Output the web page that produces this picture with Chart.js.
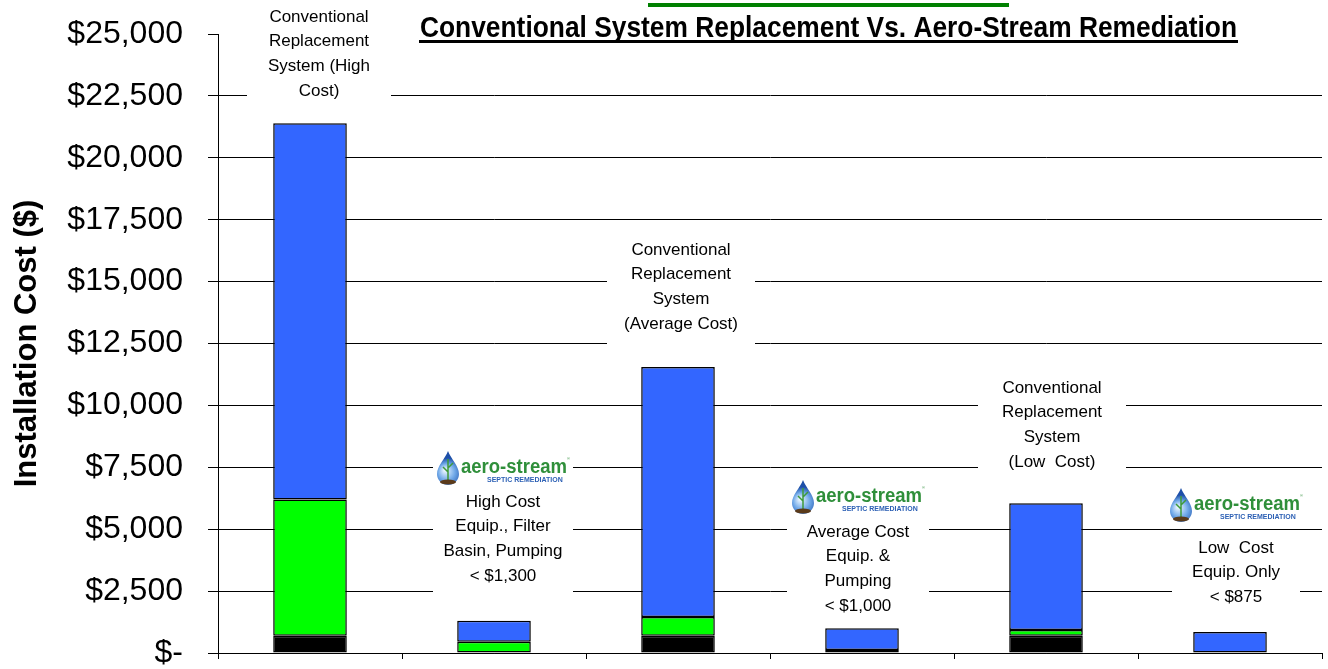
<!DOCTYPE html>
<html>
<head>
<meta charset="utf-8">
<title>Conventional System Replacement Vs. Aero-Stream Remediation</title>
<script src="https://cdn.jsdelivr.net/npm/chart.js@4.4.1/dist/chart.umd.min.js"></script>
<style>
  html, body { margin: 0; padding: 0; background: #fff; }
  #wrap { width: 1328px; height: 669px; position: relative; }
</style>
</head>
<body>
<div id="wrap"><canvas id="chart" width="1328" height="669"></canvas></div>
<script>
// categories (x axis, labels hidden in the original)
const categories = [
    'Conventional (High Cost)',
    'Aero-Stream (High Cost)',
    'Conventional (Average Cost)',
    'Aero-Stream (Average Cost)',
    'Conventional (Low Cost)',
    'Aero-Stream (Low Cost)'
];

// stacked segments, bottom to top
const blackCost = [700, 0, 700, 0, 700, 0];
const greenCost = [5500, 450, 750, 120, 230, 0];
const blueCost = [15200, 850, 10100, 880, 5120, 850];

// value axis
const yMin = 0;
const yMax = 25000;
const yStep = 2500;

// text boxes over each bar
const noteLines = [
    ['Conventional', 'Replacement', 'System (High', 'Cost)'],
    ['High Cost', 'Equip., Filter', 'Basin, Pumping', '< $1,300'],
    ['Conventional', 'Replacement', 'System', '(Average Cost)'],
    ['Average Cost', 'Equip. &', 'Pumping', '< $1,000'],
    ['Conventional', 'Replacement', 'System', '(Low  Cost)'],
    ['Low  Cost', 'Equip. Only', '< $875']
];
const noteHasLogo = [false, true, false, true, false, true];

const TITLE = 'Conventional System Replacement Vs. Aero-Stream Remediation';
const FONT = '"Liberation Sans", Arial, sans-serif';

// where the boxes sit (value of first text line, x shift, box half width, logo value)
const noteLayout = [
    { dx: 9, first: 25690, half: 72, logo: null },
    { dx: 9, first: 6100, half: 70, logo: 7430 },
    { dx: 3, first: 16280, half: 74, logo: null },
    { dx: -4, first: 4890, half: 71, logo: 6260 },
    { dx: 6, first: 10700, half: 74, logo: null },
    { dx: 6, first: 4240, half: 64, logo: 5940 }
];

function drawLogo(c, cx, cy) {
    const x = cx - 66;
    // drop
    const dx = x + 11, top = cy - 18, r = 11, by = cy + 5;
    const g = c.createRadialGradient(dx - 3, by - 4, 1, dx, by, 16);
    g.addColorStop(0, '#e8f4ff');
    g.addColorStop(0.5, '#6fa8e8');
    g.addColorStop(1, '#1d4fa8');
    c.save();
    c.beginPath();
    c.moveTo(dx, top);
    c.bezierCurveTo(dx + 3, top + 8, dx + r, by - 8, dx + r, by);
    c.arc(dx, by, r, 0, Math.PI, false);
    c.bezierCurveTo(dx - r, by - 8, dx - 3, top + 8, dx, top);
    c.closePath();
    c.fillStyle = g;
    c.fill();
    // little plant
    c.strokeStyle = '#3f9a3a';
    c.lineWidth = 1.5;
    c.beginPath();
    c.moveTo(dx, by + 9);
    c.lineTo(dx, top + 8);
    c.moveTo(dx, by - 2);
    c.lineTo(dx - 5, by - 7);
    c.moveTo(dx, by - 6);
    c.lineTo(dx + 5, by - 11);
    c.stroke();
    c.fillStyle = '#5a3a1a';
    c.beginPath();
    c.ellipse(dx, by + 8, 8, 2.5, 0, 0, Math.PI * 2);
    c.fill();
    // words
    c.textAlign = 'left';
    c.textBaseline = 'alphabetic';
    c.fillStyle = '#2f8f3a';
    c.font = 'bold 20px ' + FONT;
    const w = c.measureText('aero-stream').width;
    c.save();
    c.translate(x + 24, cy + 4);
    c.scale(106 / w, 1);
    c.fillText('aero-stream', 0, 0);
    c.restore();
    c.font = '4px ' + FONT;
    c.fillText('®', x + 130, cy - 9);
    c.fillStyle = '#2b5fb4';
    c.font = 'bold 7px ' + FONT;
    c.fillText('SEPTIC REMEDIATION', x + 50, cy + 13);
    c.restore();
}

const notesPlugin = {
    id: 'notes',
    afterDraw(chart) {
        const c = chart.ctx;
        const xs = chart.scales.x;
        const ys = chart.scales.y;
        const lineGap = 24.7;
        c.save();
        noteLines.forEach((lines, i) => {
            const lay = noteLayout[i];
            const cx = xs.getPixelForValue(i) + lay.dx;
            const y0 = ys.getPixelForValue(lay.first);
            const yLast = y0 + lineGap * (lines.length - 1);
            let boxTop = y0 - 14;
            if (noteHasLogo[i] && i !== 5) boxTop = ys.getPixelForValue(lay.logo) - 18;
            c.fillStyle = '#fff';
            c.fillRect(cx - lay.half, boxTop, lay.half * 2, yLast + 22 - boxTop);
            c.fillStyle = '#000';
            c.font = '17px ' + FONT;
            c.textAlign = 'center';
            c.textBaseline = 'middle';
            lines.forEach((t, k) => c.fillText(t, cx, y0 + k * lineGap));
            if (noteHasLogo[i]) drawLogo(c, cx, ys.getPixelForValue(lay.logo));
        });

        // title with underline and the green bar above (narrow face squeezed to width)
        c.fillStyle = '#008000';
        c.fillRect(648, 3, 361, 4);
        c.fillStyle = '#000';
        c.font = 'bold 29px ' + FONT;
        c.textAlign = 'left';
        c.textBaseline = 'alphabetic';
        const tw = c.measureText(TITLE).width;
        const targetW = 817;
        c.save();
        c.translate(420, 37);
        c.scale(targetW / tw, 1);
        c.fillText(TITLE, 0, 0);
        c.restore();
        c.fillRect(419, 40, targetW + 2, 3);
        c.restore();
    }
};

const segBorder = '#000';

new Chart(document.getElementById('chart'), {
    type: 'bar',
    data: {
        labels: categories,
        datasets: [
            { label: 'Base', data: blackCost, backgroundColor: '#000000' },
            { label: 'Middle', data: greenCost, backgroundColor: '#00ff00' },
            { label: 'Top', data: blueCost, backgroundColor: '#3366ff' }
        ].map(d => Object.assign(d, {
            borderColor: segBorder,
            borderWidth: 1.5,
            borderSkipped: false,
            barPercentage: 0.4,
            categoryPercentage: 1
        }))
    },
    options: {
        responsive: false,
        animation: false,
        layout: { padding: { top: 34, right: 6, bottom: 0, left: 0 } },
        plugins: {
            legend: { display: false },
            tooltip: { enabled: false }
        },
        scales: {
            x: {
                stacked: true,
                ticks: { display: false },
                grid: { offset: true, drawOnChartArea: false, tickLength: 6, tickColor: '#000' },
                border: { color: '#000', width: 1 },
                afterFit(scale) { scale.height = 16; }
            },
            y: {
                stacked: true,
                min: yMin,
                max: yMax,
                ticks: {
                    stepSize: yStep,
                    color: '#000',
                    padding: 25,
                    font: { family: FONT, size: 32 },
                    callback: v => v === 0 ? '$-' : '$' + v.toLocaleString('en-US')
                },
                grid: {
                    color: c => c.tick && c.tick.value === yMax ? 'rgba(0,0,0,0)' : '#000',
                    tickColor: '#000',
                    tickLength: 10
                },
                border: { color: '#000', width: 1 },
                title: {
                    display: true,
                    text: 'Installation Cost ($)',
                    color: '#000',
                    font: { family: FONT, size: 31, weight: 'bold' },
                    padding: { top: 9, bottom: 0 }
                },
                afterFit(scale) {
                    scale.width = 218;
                    scale.paddingTop = 0;
                    scale.paddingBottom = 0;
                }
            }
        }
    },
    plugins: [notesPlugin]
});
</script>
</body>
</html>
